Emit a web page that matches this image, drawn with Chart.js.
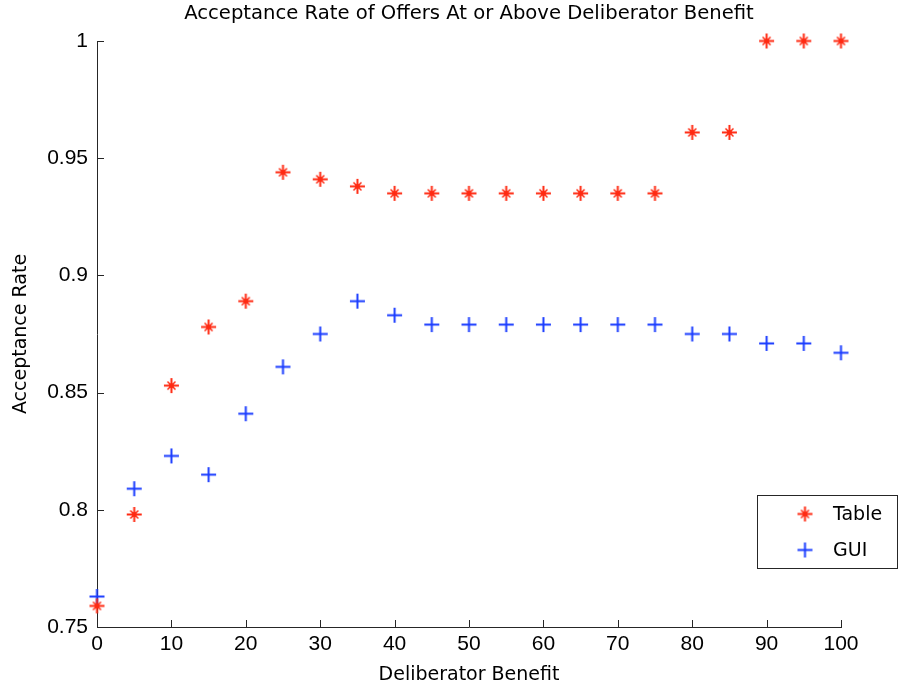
<!DOCTYPE html>
<html>
<head>
    <title>Acceptance Rate</title>
    <style>
        body {
            margin: 0;
            padding: 0;
            background-color: #ffffff;
        }

        #chart-container {
            width: 898px;
            height: 690px;
        }
    </style>
</head>
<body>
    <div id="chart-container">
        <canvas id="chart" width="898" height="690"></canvas>
    </div>

    <script src="https://cdn.jsdelivr.net/npm/chart.js"></script>
    <script>
        var benefit = [0, 5, 10, 15, 20, 25, 30, 35, 40, 45, 50, 55, 60, 65, 70, 75, 80, 85, 90, 95, 100];
        var tableRate = [0.759, 0.798, 0.853, 0.878, 0.889, 0.944, 0.941, 0.938, 0.935, 0.935, 0.935,
                         0.935, 0.935, 0.935, 0.935, 0.935, 0.961, 0.961, 1.0, 1.0, 1.0];
        var guiRate = [0.763, 0.809, 0.823, 0.815, 0.841, 0.861, 0.875, 0.889, 0.883, 0.879, 0.879,
                       0.879, 0.879, 0.879, 0.879, 0.879, 0.875, 0.875, 0.871, 0.871, 0.867];
        var seriesNames = ['Table', 'GUI'];
        var titleText = 'Acceptance Rate of Offers At or Above Deliberator Benefit';

        var FONT = '"DejaVu Sans", Verdana, sans-serif';
        var TICKFONT = '"Liberation Sans", Arial, sans-serif';
        var red = '#ff2a12';
        var blue = '#1a3cff';
        var axisColor = '#262626';

        // MATLAB-like '*' marker
        function makeStar(color) {
            var c = document.createElement('canvas');
            c.width = 17; c.height = 17;
            var g = c.getContext('2d');
            g.strokeStyle = color;
            g.fillStyle = color;
            g.lineWidth = 2;
            g.beginPath();
            g.moveTo(8.5, 1); g.lineTo(8.5, 16);
            g.moveTo(1, 8.5); g.lineTo(16, 8.5);
            g.stroke();
            g.lineWidth = 1.5;
            g.beginPath();
            g.moveTo(4.5, 4.5); g.lineTo(12.5, 12.5);
            g.moveTo(12.5, 4.5); g.lineTo(4.5, 12.5);
            g.stroke();
            g.beginPath();
            g.arc(8.5, 8.5, 2.5, 0, Math.PI * 2);
            g.fill();
            return c;
        }

        // MATLAB-like '+' marker
        function makePlus(color) {
            var c = document.createElement('canvas');
            c.width = 17; c.height = 17;
            var g = c.getContext('2d');
            g.strokeStyle = color;
            g.lineWidth = 2;
            g.beginPath();
            g.moveTo(8.5, 1); g.lineTo(8.5, 16);
            g.moveTo(1, 8.5); g.lineTo(16, 8.5);
            g.stroke();
            return c;
        }

        var starImg = makeStar(red);
        var plusImg = makePlus(blue);

        // inward tick marks, like MATLAB
        var innerTicks = {
            id: 'innerTicks',
            afterDraw: function(chart) {
                var ctx = chart.ctx;
                var xs = chart.scales.x, ys = chart.scales.y;
                var area = chart.chartArea;
                ctx.save();
                ctx.strokeStyle = axisColor;
                ctx.lineWidth = 1;
                ctx.beginPath();
                xs.ticks.forEach(function(t) {
                    var px = Math.round(xs.getPixelForValue(t.value)) + 0.5;
                    ctx.moveTo(px, area.bottom);
                    ctx.lineTo(px, area.bottom - 7);
                });
                ys.ticks.forEach(function(t) {
                    var py = Math.round(ys.getPixelForValue(t.value)) + 0.5;
                    ctx.moveTo(area.left, py);
                    ctx.lineTo(area.left + 7, py);
                });
                ctx.stroke();
                ctx.restore();
            }
        };

        // title centred over the plot area
        var areaTitle = {
            id: 'areaTitle',
            afterDraw: function(chart) {
                var ctx = chart.ctx;
                var area = chart.chartArea;
                ctx.save();
                ctx.font = '19.6px ' + FONT;
                ctx.fillStyle = '#000000';
                ctx.textAlign = 'center';
                ctx.textBaseline = 'middle';
                ctx.fillText(titleText, (area.left + area.right) / 2, 14);
                ctx.restore();
            }
        };

        // boxed legend in the lower right
        var boxLegend = {
            id: 'boxLegend',
            afterDraw: function(chart) {
                var ctx = chart.ctx;
                var area = chart.chartArea;
                var x0 = area.right - 84, y0 = area.bottom - 132;
                var w = 140, h = 73;
                ctx.save();
                ctx.fillStyle = '#ffffff';
                ctx.fillRect(x0, y0, w, h);
                ctx.strokeStyle = axisColor;
                ctx.lineWidth = 1;
                ctx.strokeRect(x0 + 0.5, y0 + 0.5, w, h);
                var imgs = [starImg, plusImg];
                ctx.font = '19px ' + FONT;
                ctx.fillStyle = '#000000';
                ctx.textBaseline = 'middle';
                for (var i = 0; i < seriesNames.length; i++) {
                    var cy = y0 + 19 + i * 36;
                    ctx.drawImage(imgs[i], x0 + 48 - 8.5, cy - 8.5);
                    ctx.fillText(seriesNames[i], x0 + 76, cy + 1);
                }
                ctx.restore();
            }
        };

        var ctx = document.getElementById('chart').getContext('2d');
        var chart = new Chart(ctx, {
            type: 'scatter',
            data: {
                datasets: [{
                    label: seriesNames[0],
                    data: benefit.map(function(b, i) { return { x: b, y: tableRate[i] }; }),
                    pointStyle: starImg,
                    borderColor: red,
                    backgroundColor: red,
                    clip: false
                }, {
                    label: seriesNames[1],
                    data: benefit.map(function(b, i) { return { x: b, y: guiRate[i] }; }),
                    pointStyle: plusImg,
                    borderColor: blue,
                    backgroundColor: blue,
                    clip: false
                }]
            },
            options: {
                responsive: false,
                animation: false,
                layout: {
                    padding: { left: 0, right: 57, top: 41, bottom: 0 }
                },
                plugins: {
                    legend: { display: false },
                    tooltip: { enabled: false },
                    title: { display: false }
                },
                scales: {
                    x: {
                        type: 'linear',
                        min: 0,
                        max: 100,
                        ticks: {
                            stepSize: 10,
                            color: '#000000',
                            padding: 5,
                            maxRotation: 0,
                            font: { family: TICKFONT, size: 21 }
                        },
                        grid: { display: false, drawTicks: false },
                        border: { display: true, color: axisColor, width: 1 },
                        title: {
                            display: true,
                            text: 'Deliberator Benefit',
                            color: '#000000',
                            font: { family: FONT, size: 19 },
                            padding: { top: 0, bottom: 4 }
                        },
                        afterFit: function(scale) { scale.height = 63; }
                    },
                    y: {
                        min: 0.75,
                        max: 1,
                        ticks: {
                            stepSize: 0.05,
                            color: '#000000',
                            padding: 9,
                            font: { family: TICKFONT, size: 21 },
                            callback: function(v) { return String(Math.round(v * 100) / 100); }
                        },
                        grid: { display: false, drawTicks: false },
                        border: { display: true, color: axisColor, width: 1 },
                        title: {
                            display: true,
                            text: 'Acceptance Rate',
                            color: '#000000',
                            font: { family: FONT, size: 19 },
                            padding: { top: 10, bottom: 4 }
                        },
                        afterFit: function(scale) { scale.width = 97; }
                    }
                }
            },
            plugins: [innerTicks, areaTitle, boxLegend]
        });
    </script>
</body>
</html>
